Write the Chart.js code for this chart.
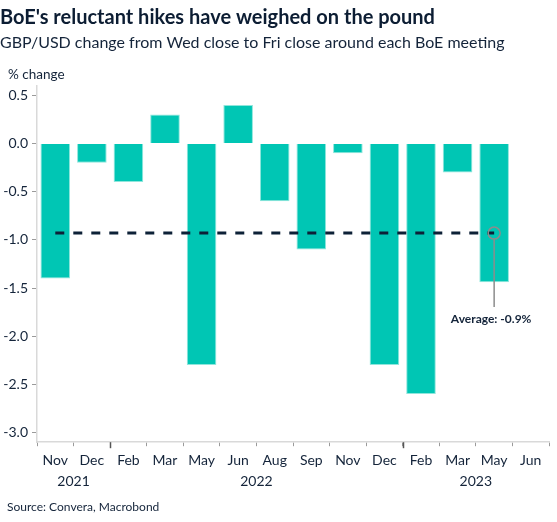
<!DOCTYPE html>
<html>
<head>
<meta charset="utf-8">
<script src="https://cdn.jsdelivr.net/npm/chart.js@4.4.1/dist/chart.umd.min.js"></script>
<style>
  html, body { margin: 0; padding: 0; background: #fff; }
  #wrap { width: 557px; height: 522px; position: relative; }
</style>
</head>
<body>
<div id="wrap"><canvas id="boeChart"></canvas></div>
<script>
const months = ['Nov', 'Dec', 'Feb', 'Mar', 'May', 'Jun', 'Aug', 'Sep', 'Nov', 'Dec', 'Feb', 'Mar', 'May', 'Jun'];
const changes = [-1.4, -0.2, -0.4, 0.3, -2.3, 0.4, -0.6, -1.1, -0.1, -2.3, -2.6, -0.3, -1.44, null];
const years = ['2021', '2022', '2023'];
const meetingsPerYear = [2, 8, 4];
const average = -0.93;
const averageLabel = 'Average: -0.9%';
const yTicks = [0.5, 0, -0.5, -1, -1.5, -2, -2.5, -3];

const TEXT = '#14243a';
const TEAL = '#00c6b4';
const FONT = 'Lato, "Noto Sans", sans-serif';

Chart.defaults.font.family = FONT;
Chart.defaults.color = TEXT;

// year label sits in the middle of its run of meetings
const yearMids = [];
let start = 0;
meetingsPerYear.forEach(n => {
    yearMids.push(start + (n - 1) / 2);
    start += n;
});
const lastBar = changes.findLastIndex(v => v !== null);

const extras = {
    id: 'extras',
    afterDatasetsDraw(chart) {
        const {ctx, scales: {x, xPos}} = chart;
        const step = x.getPixelForValue(1) - x.getPixelForValue(0);
        ctx.save();
        // longer ticks on year boundaries
        ctx.strokeStyle = '#555';
        ctx.lineWidth = 1.5;
        let n = 0;
        meetingsPerYear.slice(0, -1).forEach(c => {
            n += c;
            const px = Math.round(x.getPixelForValue(n) - step / 2) + 0.5;
            ctx.beginPath();
            ctx.moveTo(px, x.top);
            ctx.lineTo(px, x.top + 6);
            ctx.stroke();
        });
        // year labels under the months
        ctx.fillStyle = TEXT;
        ctx.font = '14px ' + FONT;
        ctx.textAlign = 'center';
        ctx.textBaseline = 'middle';
        years.forEach((y, i) => ctx.fillText(y, xPos.getPixelForValue(yearMids[i]), x.top + 39));
        // average callout
        const pt = chart.getDatasetMeta(1).data[1];
        ctx.strokeStyle = '#8c8c8c';
        ctx.lineWidth = 1.5;
        ctx.beginPath();
        ctx.moveTo(pt.x, pt.y + 6);
        ctx.lineTo(pt.x, pt.y + 74);
        ctx.stroke();
        ctx.font = 'bold 12px ' + FONT;
        ctx.fillText(averageLabel, pt.x - 3, pt.y + 86);
        // unit label and source
        ctx.font = '13.5px ' + FONT;
        ctx.textAlign = 'left';
        ctx.fillText('% change', 8, 75);
        ctx.font = '12px ' + FONT;
        ctx.fillText('Source: Convera, Macrobond', 7, 507);
        ctx.restore();
    }
};

new Chart(document.getElementById('boeChart'), {
    type: 'bar',
    data: {
        labels: months,
        datasets: [
            {
                type: 'bar',
                data: changes,
                backgroundColor: TEAL,
                borderColor: '#8fe6dc',
                borderWidth: 1,
                barPercentage: 0.81,
                categoryPercentage: 1,
                grouped: false,
                order: 2
            },
            {
                type: 'line',
                xAxisID: 'xPos',
                data: [{x: 0, y: average}, {x: lastBar, y: average}],
                borderColor: '#0d2137',
                borderWidth: 3,
                borderDash: [9, 9],
                pointRadius: c => c.dataIndex === 1 ? 6 : 0,
                pointBorderColor: '#8c8c8c',
                pointBackgroundColor: 'rgba(0,0,0,0)',
                pointBorderWidth: 1.5,
                order: 1
            }
        ]
    },
    options: {
        responsive: true,
        maintainAspectRatio: false,
        animation: false,
        layout: {padding: {left: 0, right: 8, top: 0, bottom: 47}},
        scales: {
            x: {
                type: 'category',
                offset: true,
                grid: {display: true, drawOnChartArea: false, tickLength: 4, color: '#9a9a9a', offset: true},
                border: {color: '#d9d9d9', width: 1.5},
                ticks: {font: {size: 14}, padding: 6, maxRotation: 0, autoSkip: false}
            },
            // numeric twin of the category axis, used for the average line and year labels
            xPos: {
                type: 'linear',
                axis: 'x',
                position: 'bottom',
                display: false,
                offset: false,
                min: -0.5,
                max: months.length - 0.5
            },
            y: {
                min: -3.1,
                max: 0.6,
                afterBuildTicks: axis => { axis.ticks = yTicks.map(v => ({value: v})); },
                afterFit: axis => { axis.width = 37; },
                grid: {display: true, drawOnChartArea: false, tickLength: 5, color: '#9a9a9a'},
                border: {color: '#d9d9d9', width: 1.5},
                ticks: {font: {size: 14}, padding: 4, callback: v => v.toFixed(1)}
            }
        },
        plugins: {
            legend: {display: false},
            tooltip: {enabled: false},
            title: {
                display: true,
                text: "BoE's reluctant hikes have weighed on the pound",
                align: 'start',
                color: '#0c1d33',
                font: {size: 20, weight: 'bold'},
                padding: {top: 6, bottom: 3}
            },
            subtitle: {
                display: true,
                text: 'GBP/USD change from Wed close to Fri close around each BoE meeting',
                align: 'start',
                color: TEXT,
                font: {size: 16},
                padding: {top: 0, bottom: 33.5}
            }
        }
    },
    plugins: [extras]
});
</script>
</body>
</html>
